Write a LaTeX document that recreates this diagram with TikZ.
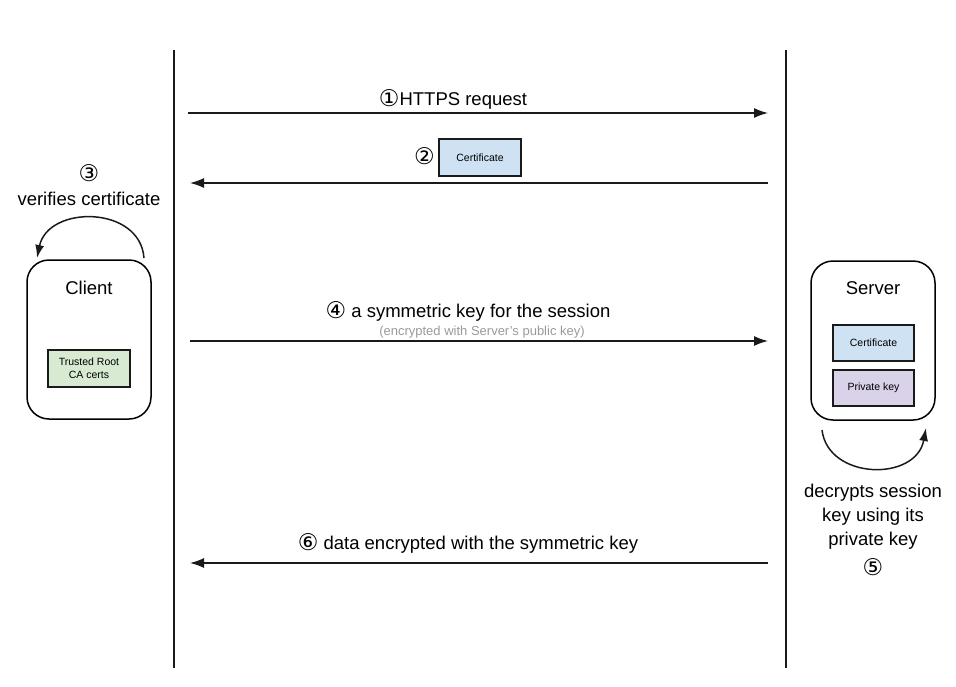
\documentclass[tikz,border=0pt]{standalone}
\usepackage{fontspec}
\setmainfont{Liberation Sans}
\newfontfamily\symfont{DejaVu Sans}
\usetikzlibrary{arrows.meta}
\definecolor{certblue}{HTML}{CFE2F3}
\definecolor{rootgreen}{HTML}{D9EAD3}
\definecolor{keypurple}{HTML}{D9D2E9}
\definecolor{greytext}{HTML}{9A9A9A}
\definecolor{linecol}{HTML}{1A1A1A}
\newcommand{\circnum}[1]{{\fontsize{23}{24}\selectfont\symfont\raisebox{-1pt}{#1}}}
\tikzset{
  lifeline/.style={draw=linecol, line width=2pt},
  msg/.style={draw=linecol, line width=1.4pt, -{Latex[length=14pt,width=10pt]}},
  loopline/.style={draw=linecol, line width=1.5pt, -{Latex[length=13pt,width=9pt]}},
  lbl/.style={font=\fontsize{18.5}{24}\selectfont, inner sep=0pt, anchor=base, text=black},
  smalllbl/.style={font=\fontsize{13}{16}\selectfont, inner sep=0pt, anchor=base, text=greytext},
  actor/.style={draw=black, line width=1.5pt, rounded corners=22pt, minimum width=124pt, minimum height=159pt, inner sep=0pt},
  itembox/.style={draw=linecol, line width=1.5pt, minimum width=81pt, minimum height=36pt, inner sep=0pt, align=center, font=\fontsize{10.5}{13}\selectfont},
}
\begin{document}
\begin{tikzpicture}[x=1pt,y=-1pt]
\useasboundingbox (0,0) rectangle (956,686);
% lifelines
\coordinate (cltop) at (174,50);
\coordinate (clbot) at (174,668);
\coordinate (svtop) at (786,50);
\coordinate (svbot) at (786,668);
\draw[lifeline] (cltop) -- (clbot);
\draw[lifeline] (svtop) -- (svbot);

% actors
\node[actor] (client) at (89,339.5) {};
\node[lbl] (clientlbl) at (89,294.5) {Client};
\node[itembox, fill=rootgreen, minimum width=82pt, minimum height=37pt] (roots) at (89,368.5) {Trusted Root\\CA certs};

\node[actor] (server) at (873,340.5) {};
\node[lbl] (serverlbl) at (873,294.5) {Server};
\node[itembox, fill=certblue] (svcert) at (873.5,343) {Certificate};
\node[itembox, fill=keypurple] (svkey) at (873.5,388) {Private key};

% message 1
\coordinate (m1s) at (188,113);
\coordinate (m1e) at (768,113);
\draw[msg] (m1s) -- (m1e);
\node[lbl] (m1lbl) at (453,105) {\circnum{①}HTTPS request};

% message 2
\coordinate (m2s) at (768,183);
\coordinate (m2e) at (190,183);
\draw[msg] (m2s) -- (m2e);
\node[itembox, fill=certblue, minimum width=82pt, minimum height=37pt] (msgcert) at (480,157.5) {Certificate};
\node[lbl, anchor=base east] (m2num) at (435,163) {\circnum{②}};

% step 3 loop
\coordinate (l3s) at (144,258);
\coordinate (l3e) at (37,258);
\draw[loopline] (l3s) .. controls (140,205) and (48,205) .. (l3e);
\node[lbl] (s3num) at (89,180) {\circnum{③}};
\node[lbl] (s3lbl) at (89,205) {verifies certificate};

% message 4
\coordinate (m4s) at (190,341);
\coordinate (m4e) at (768,341);
\draw[msg] (m4s) -- (m4e);
\node[lbl] (m4lbl) at (468,317) {\circnum{④} a symmetric key for the session};
\node[smalllbl] (m4sub) at (482,335) {(encrypted with Server's public key)};

% step 5 loop
\coordinate (l5s) at (822,430);
\coordinate (l5e) at (926,428);
\draw[loopline] (l5s) .. controls (828,480) and (916,482) .. (l5e);
\node[lbl, align=center, anchor=north] (s5lbl) at (873,484) {decrypts session\\key using its\\private key};
\node[lbl] (s5num) at (873,574) {\circnum{⑤}};

% message 6
\coordinate (m6s) at (768,563);
\coordinate (m6e) at (190,563);
\draw[msg] (m6s) -- (m6e);
\node[lbl] (m6lbl) at (468,549) {\circnum{⑥} data encrypted with the symmetric key};
\end{tikzpicture}
\end{document}
